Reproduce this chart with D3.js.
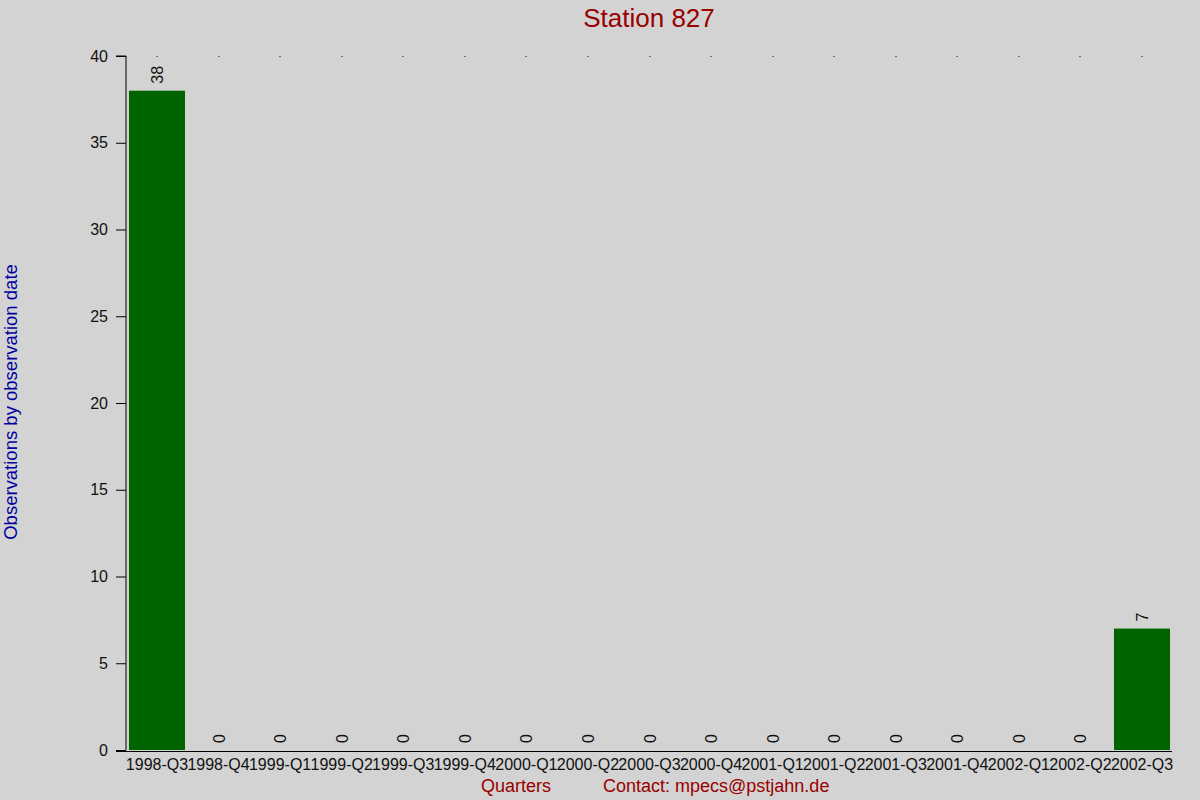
<!DOCTYPE html>
<html>
<head>
<meta charset="utf-8">
<script src="https://cdn.jsdelivr.net/npm/d3@7"></script>
<style>
  body { margin: 0; background: #d3d3d3; }
  svg { display: block; font-family: "Liberation Sans", Arial, sans-serif; }
</style>
</head>
<body>
<svg id="chart" width="1200" height="800"></svg>
<script>
// chart data
var quarters = ["1998-Q3", "1998-Q4", "1999-Q1", "1999-Q2", "1999-Q3", "1999-Q4",
  "2000-Q1", "2000-Q2", "2000-Q3", "2000-Q4", "2001-Q1", "2001-Q2",
  "2001-Q3", "2001-Q4", "2002-Q1", "2002-Q2", "2002-Q3"];
var counts = [38, 0, 0, 0, 0, 0, 0, 0, 0, 0, 0, 0, 0, 0, 0, 0, 7];
var yTicks = [0, 5, 10, 15, 20, 25, 30, 35, 40];

var svg = d3.select("#chart");

svg.append("rect")
  .attr("width", 1200)
  .attr("height", 800)
  .style("fill", "#d3d3d3");

var x = d3.scaleBand()
  .domain(quarters)
  .range([126.2, 1172.8])
  .paddingInner(0.09)
  .paddingOuter(0.045);

var y = d3.scaleLinear()
  .domain([0, 40])
  .range([750, 56]);

var data = quarters.map(function (q, i) {
  return { q: q, v: counts[i] };
});

// bars
svg.selectAll("rect.bar")
  .data(data.filter(function (d) { return d.v > 0; }))
  .enter()
  .append("rect")
  .attr("class", "bar")
  .attr("x", function (d) { return x(d.q); })
  .attr("width", x.bandwidth())
  .attr("y", function (d) { return y(d.v); })
  .attr("height", function (d) { return y(0) - y(d.v); })
  .style("fill", "#006400");

// little dots along the top
svg.selectAll("rect.dot")
  .data(data)
  .enter()
  .append("rect")
  .attr("class", "dot")
  .attr("x", function (d) { return Math.round(x(d.q) + x.bandwidth() / 2) - 0.5; })
  .attr("y", y(40))
  .attr("width", 1)
  .attr("height", 1)
  .style("fill", "#000");

// value labels, rotated
svg.selectAll("text.val")
  .data(data)
  .enter()
  .append("text")
  .attr("class", "val")
  .attr("transform", function (d) {
    var cx = x(d.q) + x.bandwidth() / 2;
    return "translate(" + (cx + 6) + "," + (y(d.v) - 7) + ") rotate(-90)";
  })
  .style("font-size", "16px")
  .style("fill", "#111")
  .text(function (d) { return d.v; });

// y axis
var yAxis = svg.append("g")
  .attr("transform", "translate(126,0)")
  .call(d3.axisLeft(y).tickValues(yTicks).tickSize(10).tickPadding(8));
yAxis.select(".domain").attr("d", "M-10," + y(40) + "H0V" + y(0));
yAxis.selectAll("text").style("font-size", "16px").style("fill", "#111").style("font-family", "Liberation Sans, Arial, sans-serif");
yAxis.selectAll("line, path").style("stroke", "#000");

// x axis
svg.append("line")
  .attr("x1", 116).attr("x2", 1172)
  .attr("y1", 751.5).attr("y2", 751.5)
  .style("stroke", "#000");

svg.selectAll("text.xlab")
  .data(quarters)
  .enter()
  .append("text")
  .attr("class", "xlab")
  .attr("x", function (d) { return x(d) + x.bandwidth() / 2; })
  .attr("y", 770)
  .attr("text-anchor", "middle")
  .style("font-size", "16px")
  .style("fill", "#111")
  .text(function (d) { return d; });

// titles
svg.append("text")
  .attr("x", 649)
  .attr("y", 27)
  .attr("text-anchor", "middle")
  .style("font-size", "26px")
  .style("fill", "#990000")
  .text("Station 827");

svg.append("text")
  .attr("transform", "translate(17,402) rotate(-90)")
  .attr("text-anchor", "middle")
  .style("font-size", "18.5px")
  .style("fill", "#0000a0")
  .text("Observations by observation date");

svg.append("text")
  .attr("x", 481)
  .attr("y", 792)
  .style("font-size", "18px")
  .style("fill", "#990000")
  .text("Quarters");

svg.append("text")
  .attr("x", 603)
  .attr("y", 792)
  .style("font-size", "18px")
  .style("fill", "#990000")
  .text("Contact: mpecs@pstjahn.de");
</script>
</body>
</html>
